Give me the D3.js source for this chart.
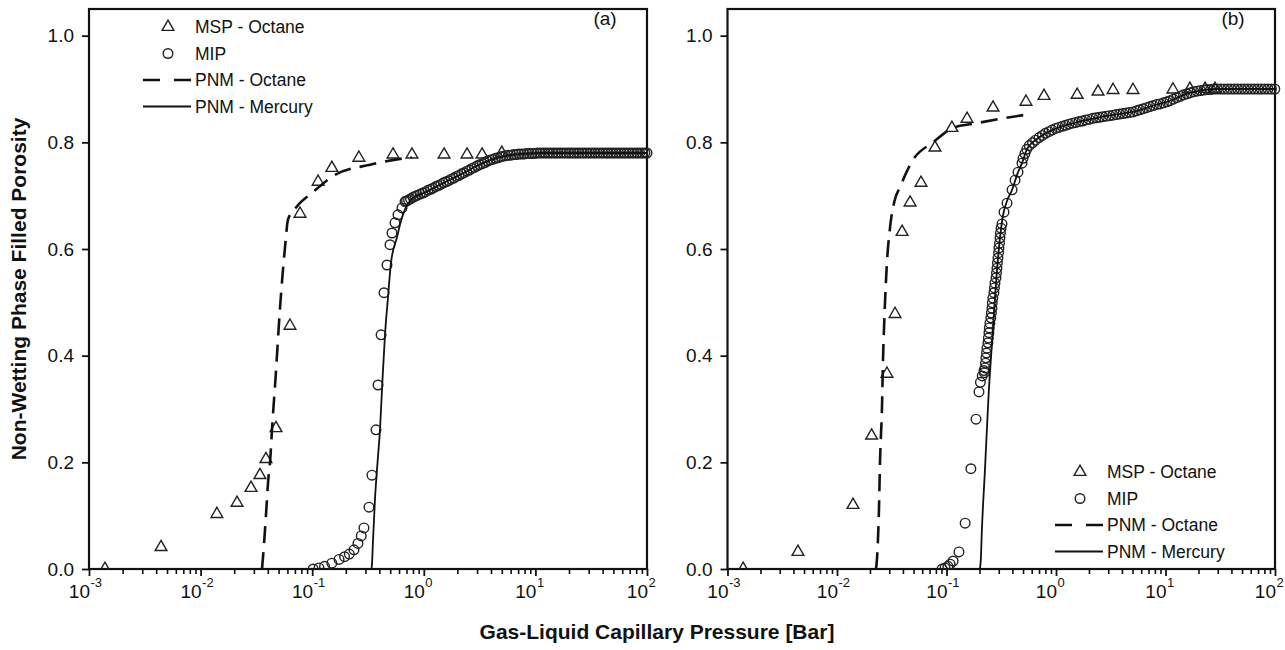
<!DOCTYPE html>
<html>
<head>
<meta charset="utf-8">
<script src="https://cdn.jsdelivr.net/npm/d3@7"></script>
<style>
  body { margin: 0; background: #fff; }
  text { font-family: "Liberation Sans", Arial, sans-serif; fill: #111; }
</style>
</head>
<body>
<svg id="chart" width="1285" height="650"></svg>
<script>
// axis ticks
const xMajor = [1e-3, 1e-2, 1e-1, 1e0, 1e1, 1e2];
const xExp = ["-3", "-2", "-1", "0", "1", "2"];
const yTicks = [0, 0.2, 0.4, 0.6, 0.8, 1.0];
const legendNames = ["MSP - Octane", "MIP", "PNM - Octane", "PNM - Mercury"];

// panel (a) : [pressure in bar, porosity]
const mspA = [[0.00139,0.0],[0.00442,0.041],[0.0140,0.103],[0.0212,0.124],[0.0283,0.152],[0.0340,0.176],
  [0.0385,0.206],[0.0474,0.264],[0.0632,0.456],[0.0778,0.666],[0.113,0.726],[0.150,0.752],[0.262,0.771],
  [0.530,0.777],[0.783,0.777],[1.52,0.777],[2.44,0.777],[3.33,0.777],[5.0,0.780]];

const mipA = [[0.102,0.0],[0.115,0.002],[0.129,0.005],[0.150,0.011],[0.174,0.018],[0.195,0.023],[0.215,0.028],
  [0.237,0.036],[0.257,0.048],[0.275,0.062],[0.291,0.077],[0.323,0.116],[0.343,0.176],[0.373,0.261],[0.389,0.345],
  [0.414,0.439],[0.440,0.518],[0.468,0.570],[0.498,0.608],[0.519,0.630],[0.552,0.649],[0.587,0.664],[0.638,0.677],
  [0.679,0.689],[0.70,0.690],[0.73,0.692],[0.76,0.694],[0.80,0.697],[0.84,0.699],[0.88,0.701],[0.93,0.703],
  [0.98,0.705],[1.03,0.707],[1.09,0.710],[1.15,0.712],[1.21,0.714],[1.28,0.717],[1.35,0.719],[1.42,0.721],
  [1.50,0.724],[1.58,0.726],[1.67,0.728],[1.76,0.731],[1.86,0.733],[1.96,0.736],[2.07,0.738],[2.18,0.741],
  [2.30,0.743],[2.43,0.746],[2.56,0.748],[2.70,0.751],[2.85,0.753],[3.01,0.756],[3.17,0.758],[3.35,0.760],
  [3.53,0.762],[3.73,0.765],[3.93,0.767],[4.15,0.768],[4.38,0.770],[4.62,0.771],[4.88,0.773],[5.15,0.774],
  [5.43,0.775],[5.73,0.776],[6.05,0.776],[6.38,0.777],[6.74,0.777],[7.11,0.778],[7.50,0.778],[7.92,0.778],
  [8.36,0.779],[8.82,0.779],[9.31,0.779],[9.82,0.779],[10.4,0.780],[11.0,0.780],[11.6,0.780],[12.2,0.780],
  [12.9,0.780],[13.6,0.780],[14.4,0.780],[15.2,0.780],[16.0,0.780],[16.9,0.780],[17.9,0.780],[18.9,0.780],
  [19.9,0.780],[21.0,0.780],[22.2,0.780],[23.4,0.780],[24.7,0.780],[26.1,0.780],[27.5,0.780],[29.1,0.780],
  [30.7,0.780],[32.4,0.780],[34.2,0.780],[36.1,0.780],[38.1,0.780],[40.2,0.780],[42.5,0.780],[44.8,0.780],
  [47.3,0.780],[50.0,0.780],[52.8,0.780],[55.7,0.780],[58.8,0.780],[62.1,0.780],[65.5,0.780],[69.2,0.780],
  [73.0,0.780],[77.1,0.780],[81.4,0.780],[85.9,0.780],[90.7,0.780],[95.7,0.780],[100,0.780]];

const pnmOctA = [[0.0355,0.0],[0.0365,0.03],[0.0385,0.10],[0.0405,0.17],[0.0419,0.20],[0.0437,0.264],
  [0.047,0.36],[0.0515,0.49],[0.0571,0.604],[0.0607,0.655],[0.0731,0.68],[0.0996,0.705],[0.16,0.739],
  [0.33,0.758],[0.612,0.769],[0.78,0.772]];

const pnmHgA = [[0.340,0.0],[0.344,0.012],[0.350,0.05],[0.365,0.13],[0.385,0.20],[0.405,0.261],[0.425,0.35],
  [0.449,0.439],[0.478,0.51],[0.508,0.574],[0.575,0.622],[0.62,0.65],[0.68,0.675],[0.75,0.690],[0.85,0.699],
  [1.0,0.705],[1.5,0.724],[2.2,0.741],[3.0,0.756],[4.0,0.767],[5.5,0.775],[8.0,0.779],[12,0.780],[100,0.780]];

// panel (b)
const mspB = [[0.00139,0.0],[0.00440,0.032],[0.0140,0.120],[0.0207,0.250],[0.0286,0.366],[0.0339,0.478],
  [0.0393,0.632],[0.0465,0.687],[0.0585,0.724],[0.0785,0.790],[0.112,0.827],[0.154,0.844],[0.266,0.865],
  [0.532,0.876],[0.777,0.887],[1.56,0.889],[2.42,0.895],[3.32,0.898],[5.05,0.898],[11.7,0.899],[16.7,0.900],
  [23.0,0.900],[28.3,0.900]];

const mipB = [[0.091,0.0],[0.097,0.002],[0.103,0.005],[0.108,0.009],[0.115,0.015],[0.130,0.032],[0.148,0.086],
  [0.167,0.188],[0.186,0.281],[0.198,0.332],[0.204,0.350],[0.212,0.362],[0.220,0.372],[0.222,0.368],
  [0.225,0.377],[0.227,0.386],[0.229,0.396],[0.232,0.405],[0.234,0.414],[0.239,0.424],[0.241,0.433],
  [0.244,0.443],[0.246,0.452],[0.249,0.461],[0.254,0.471],[0.257,0.480],[0.260,0.489],[0.262,0.499],
  [0.265,0.508],[0.271,0.518],[0.274,0.527],[0.277,0.536],[0.283,0.546],[0.286,0.555],[0.289,0.564],
  [0.292,0.574],[0.295,0.583],[0.299,0.593],[0.301,0.602],[0.305,0.611],[0.308,0.621],[0.311,0.630],
  [0.315,0.639],[0.321,0.647],[0.335,0.669],[0.357,0.686],[0.397,0.711],[0.423,0.729],[0.450,0.744],
  [0.489,0.761],[0.50,0.770],[0.52,0.779],[0.54,0.787],[0.57,0.794],[0.61,0.799],[0.65,0.804],[0.70,0.809],
  [0.75,0.813],[0.80,0.817],[0.86,0.820],[0.92,0.823],[0.99,0.826],[1.06,0.828],[1.14,0.830],[1.22,0.832],
  [1.31,0.834],[1.41,0.836],[1.51,0.837],[1.62,0.839],[1.74,0.840],[1.87,0.842],[2.01,0.843],[2.16,0.845],
  [2.32,0.846],[2.49,0.847],[2.67,0.848],[2.87,0.849],[3.08,0.850],[3.31,0.851],[3.55,0.852],[3.81,0.853],
  [4.09,0.854],[4.39,0.855],[4.71,0.856],[5.06,0.857],[5.43,0.859],[5.83,0.861],[6.26,0.863],[6.72,0.865],
  [7.21,0.867],[7.74,0.869],[8.31,0.871],[8.92,0.872],[9.58,0.874],[10.3,0.876],[11.0,0.878],[11.8,0.881],
  [12.7,0.884],[13.6,0.886],[14.6,0.889],[15.7,0.891],[16.9,0.893],[18.1,0.895],[19.4,0.896],[20.9,0.897],
  [22.4,0.898],[24.0,0.899],[25.8,0.899],[27.7,0.900],[29.8,0.900],[32.0,0.900],[34.3,0.900],[36.9,0.900],
  [39.6,0.900],[42.5,0.900],[45.6,0.900],[49.0,0.900],[52.6,0.900],[56.4,0.900],[60.6,0.900],[65.0,0.900],
  [69.8,0.900],[75.0,0.900],[80.5,0.900],[86.4,0.900],[92.8,0.900],[99.6,0.900]];

const pnmOctB = [[0.0227,0.0],[0.0232,0.02],[0.0242,0.117],[0.0247,0.20],[0.0258,0.31],[0.0263,0.39],
  [0.0272,0.48],[0.0285,0.57],[0.0305,0.64],[0.0335,0.69],[0.0376,0.716],[0.0494,0.767],[0.0753,0.80],
  [0.115,0.827],[0.19,0.836],[0.405,0.848],[0.543,0.852]];

const pnmHgB = [[0.202,0.0],[0.206,0.02],[0.210,0.068],[0.225,0.19],[0.241,0.317],[0.264,0.443],[0.291,0.567],
  [0.326,0.66],[0.357,0.69],[0.397,0.711],[0.45,0.744],[0.489,0.761],[0.543,0.787],[0.70,0.809],[1.0,0.826],
  [1.5,0.837],[2.5,0.847],[4.0,0.854],[5.5,0.859],[8.0,0.870],[11,0.878],[16,0.892],[22,0.898],[30,0.900],
  [100,0.900]];

const svg = d3.select("#chart");
const plotTop = 9, plotBottom = 569;
const ink = "#111";

const panels = [
  {tag: "(a)", left: 89, right: 647, msp: mspA, mip: mipA, oct: pnmOctA, hg: pnmHgA, lx: 168, ly: 27},
  {tag: "(b)", left: 727.5, right: 1275, msp: mspB, mip: mipB, oct: pnmOctB, hg: pnmHgB, lx: 1080, ly: 472}
];

const y = d3.scaleLinear().domain([0, 1.05]).range([plotBottom, plotTop]);
const triangle = d3.symbol().type(d3.symbolTriangle).size(60);

panels.forEach(p => {
  const x = d3.scaleLog().domain([1e-3, 1e2]).range([p.left, p.right]);
  const g = svg.append("g");

  // minor ticks on x
  const minor = [];
  xMajor.slice(0, -1).forEach(m => { for (let k = 2; k < 10; k++) minor.push(m * k); });
  g.append("g").attr("transform", `translate(0,${plotBottom})`)
    .call(d3.axisBottom(x).tickValues(minor).tickSize(5).tickSizeOuter(0).tickFormat(""))
    .call(a => a.select(".domain").remove())
    .call(a => a.selectAll("line").attr("stroke", ink).attr("stroke-width", 1.6));
  g.append("g").attr("transform", `translate(0,${plotBottom})`)
    .call(d3.axisBottom(x).tickValues(xMajor).tickSize(7).tickSizeOuter(0).tickFormat(""))
    .call(a => a.select(".domain").remove())
    .call(a => a.selectAll("line").attr("stroke", ink).attr("stroke-width", 1.8));

  // x labels 10^n
  xMajor.forEach((v, i) => {
    g.append("text").attr("x", x(v) + 1).attr("y", 598).attr("text-anchor", "end")
      .style("font-size", "19px").text("10");
    g.append("text").attr("x", x(v) + 1.5).attr("y", 587)
      .style("font-size", "13px").text(xExp[i]);
  });

  // y axis
  g.append("g").attr("transform", `translate(${p.left},0)`)
    .call(d3.axisLeft(y).tickValues(yTicks).tickSize(7).tickSizeOuter(0).tickPadding(8)
      .tickFormat(d3.format(".1f")))
    .call(a => a.select(".domain").remove())
    .call(a => a.selectAll("line").attr("stroke", ink).attr("stroke-width", 1.8))
    .call(a => a.selectAll("text").style("font-size", "19px").attr("fill", ink)
      .style("font-family", '"Liberation Sans", Arial, sans-serif'));

  // frame
  g.append("rect").attr("x", p.left).attr("y", plotTop)
    .attr("width", p.right - p.left).attr("height", plotBottom - plotTop)
    .attr("fill", "none").attr("stroke", ink).attr("stroke-width", 2.2);

  // panel tag
  g.append("text").attr("x", p.right - 42).attr("y", 25).attr("text-anchor", "middle")
    .style("font-size", "19px").text(p.tag);

  const clip = "clip" + p.tag.replace(/\W/g, "");
  g.append("clipPath").attr("id", clip).append("rect")
    .attr("x", p.left).attr("y", plotTop - 6).attr("width", p.right - p.left + 6).attr("height", plotBottom - plotTop + 6);
  const plot = g.append("g").attr("clip-path", `url(#${clip})`);

  const line = d3.line().x(d => x(d[0])).y(d => y(d[1])).curve(d3.curveMonotoneX);

  plot.selectAll(".mip").data(p.mip).enter().append("circle")
    .attr("cx", d => x(d[0])).attr("cy", d => y(d[1])).attr("r", 4.8)
    .attr("fill", "none").attr("stroke", "#222").attr("stroke-width", 1.4);

  plot.selectAll(".msp").data(p.msp).enter().append("path")
    .attr("d", triangle).attr("transform", d => `translate(${x(d[0])},${y(d[1])})`)
    .attr("fill", "none").attr("stroke", "#222").attr("stroke-width", 1.4);

  plot.append("path").datum(p.oct).attr("d", line)
    .attr("fill", "none").attr("stroke", ink).attr("stroke-width", 2.6).attr("stroke-dasharray", "17,9");

  plot.append("path").datum(p.hg).attr("d", line)
    .attr("fill", "none").attr("stroke", ink).attr("stroke-width", 1.8);

  // legend
  const rowGap = 26.5;
  const lg = g.append("g").attr("transform", `translate(${p.lx},${p.ly})`);
  lg.append("path").attr("d", triangle).attr("fill", "none").attr("stroke", "#222").attr("stroke-width", 1.4);
  lg.append("circle").attr("cy", rowGap).attr("r", 4.8).attr("fill", "none").attr("stroke", "#222").attr("stroke-width", 1.4);
  lg.append("line").attr("x1", -25).attr("x2", 23).attr("y1", rowGap * 2).attr("y2", rowGap * 2)
    .attr("stroke", ink).attr("stroke-width", 2.6).attr("stroke-dasharray", "17,14");
  lg.append("line").attr("x1", -25).attr("x2", 23).attr("y1", rowGap * 3).attr("y2", rowGap * 3)
    .attr("stroke", ink).attr("stroke-width", 1.8);
  legendNames.forEach((n, i) => {
    lg.append("text").attr("x", 27).attr("y", i * rowGap + 6).style("font-size", "17.5px").text(n);
  });
});

// axis titles
svg.append("text").attr("transform", "translate(26,289) rotate(-90)").attr("text-anchor", "middle")
  .style("font-size", "21px").style("font-weight", "bold").text("Non-Wetting Phase Filled Porosity");
svg.append("text").attr("x", 657).attr("y", 639).attr("text-anchor", "middle")
  .style("font-size", "21px").style("font-weight", "bold").text("Gas-Liquid Capillary Pressure [Bar]");
</script>
</body>
</html>
